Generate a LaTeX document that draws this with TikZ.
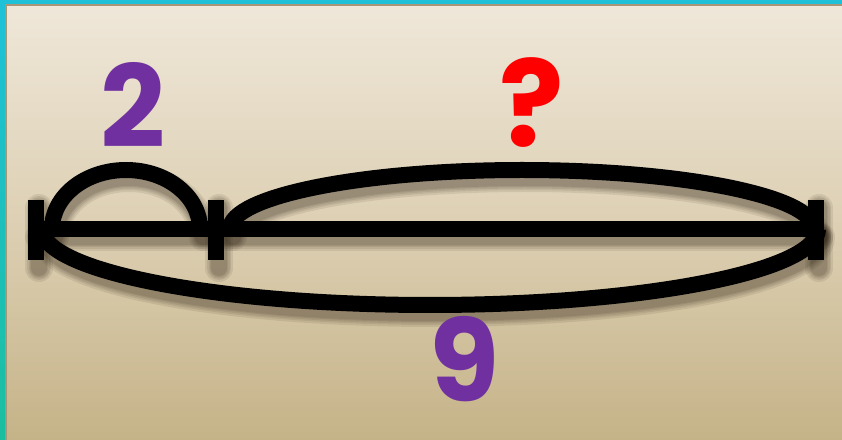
\documentclass[tikz,border=0pt]{standalone}
\usepackage{fontspec}
\setmainfont{Poppins}
\definecolor{cyanbg}{RGB}{31,193,216}
\definecolor{tealbg}{RGB}{28,190,160}
\definecolor{frametan}{RGB}{168,150,118}
\definecolor{bgtop}{RGB}{239,231,217}
\definecolor{bgmid}{RGB}{221,208,180}
\definecolor{bgbot}{RGB}{197,179,136}
\definecolor{numpurple}{RGB}{112,48,160}
\definecolor{qred}{RGB}{255,0,0}
\definecolor{shadowbrown}{RGB}{40,28,15}
\newcommand\barpaths[1]{%
  \draw[#1] (36,210) -- (816,210);
  \draw[#1] (36,179) -- (36,239);
  \draw[#1] (216,179) -- (216,239);
  \draw[#1] (816,179) -- (816,239);
  \draw[#1] (52,210) arc[start angle=180,end angle=0,x radius=74,y radius=59];
  \draw[#1] (230,210) arc[start angle=180,end angle=0,x radius=292,y radius=59];
  \draw[#1] (42,210) arc[start angle=180,end angle=360,x radius=388,y radius=76];
}
\tikzset{
  numlabel/.style={font=\fontsize{114}{114}\selectfont\bfseries,inner sep=0pt,anchor=center},
  shadowline/.style={line width=#1,draw=shadowbrown,opacity=0.09,line cap=round},
  mainline/.style={line width=16pt,draw=black,line cap=butt}
}
\begin{document}
\begin{tikzpicture}[x=1pt,y=1pt]
\useasboundingbox (0,0) rectangle (842,439);
\fill[cyanbg] (0,0) rectangle (842,439);
\shade[top color=cyanbg,bottom color=tealbg] (0,0) rectangle (6,435);
\shade[top color=bgtop,bottom color=bgmid] (6,220) rectangle (842,434);
\shade[top color=bgmid,bottom color=bgbot] (6,0) rectangle (842,220.5);
\draw[frametan,line width=2pt] (6,-2) -- (6,434) -- (844,434);
\begin{scope}[shift={(3,-8)}]
  \foreach \w in {28,24,21,18,16}{\barpaths{shadowline=\w pt}}
\end{scope}
\barpaths{mainline}
\node[numlabel,text=numpurple] (two) at (133,334) {2};
\node[numlabel,text=qred,font=\fontsize{120}{120}\selectfont\bfseries] (q) at (532,336) {?};
\node[numlabel,text=numpurple] (nine) at (465,80) {9};
\end{tikzpicture}
\end{document}
